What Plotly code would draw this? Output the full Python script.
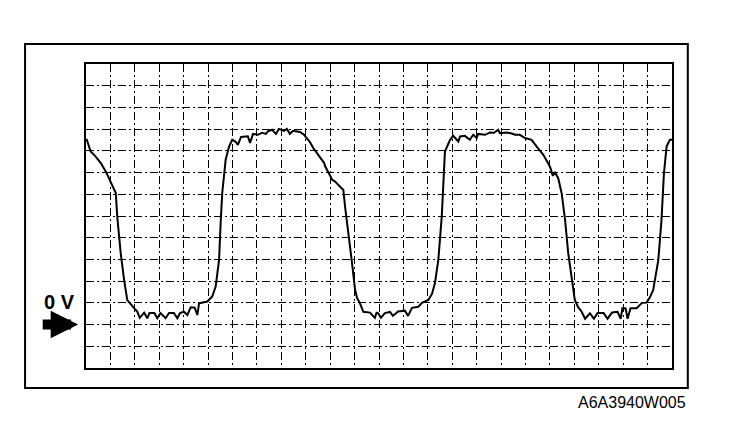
import plotly.graph_objects as go

# Oscilloscope trace (time in divisions, voltage in divisions relative to 0 V)
time_div = [
    0.02, 0.19, 0.37, 0.60, 0.82, 1.01, 1.22, 1.28, 1.42, 1.56, 1.69, 1.97, 2.10, 2.20, 2.38, 2.51, 2.60,
    2.80, 2.92, 3.05, 3.26, 3.40, 3.60, 3.74, 3.85, 4.01, 4.15, 4.29, 4.45, 4.56, 4.63, 4.97, 5.17,
    5.31, 5.45, 5.52, 5.58, 5.72, 5.86, 5.99, 6.14, 6.22, 6.35, 6.63, 6.72, 6.84, 7.04, 7.21, 7.37,
    7.45, 7.62, 7.78, 7.90, 8.11, 8.23, 8.35, 8.48, 8.76, 8.93, 9.04, 9.17, 9.30, 9.45, 9.58, 9.75,
    9.80, 9.93, 10.09, 10.20, 10.38, 10.54, 10.61, 10.74, 10.88, 11.02, 11.10, 11.22, 11.36, 11.63,
    11.83, 11.90, 11.96, 12.08, 12.24, 12.45, 12.57, 12.78, 13.06, 13.19, 13.35, 13.61, 13.76, 14.02,
    14.17, 14.29, 14.43, 14.57, 14.63, 14.70, 14.91, 15.04, 15.25, 15.32, 15.52, 15.72, 15.86, 16.00,
    16.06, 16.34, 16.54, 16.71, 16.88, 16.95, 17.23, 17.40, 17.57, 17.77, 17.98, 18.25, 18.46, 18.73,
    19.00, 19.12, 19.20, 19.34, 19.48, 19.62, 19.75, 19.89, 20.02, 20.15, 20.30, 20.44, 20.64, 20.80,
    20.95, 21.20, 21.36, 21.55, 21.77, 21.90, 21.97, 22.10, 22.18, 22.30, 22.55, 22.77, 22.96, 23.10,
    23.23, 23.44, 23.57, 23.67, 23.78, 23.91, 24.00,
]
voltage_div = [
    8.55, 7.97, 7.77, 7.45, 7.03, 6.59, 6.06, 4.97, 3.30, 2.06, 1.13, 0.76, 0.60, 0.31, 0.55, 0.29, 0.53,
    0.53, 0.29, 0.53, 0.29, 0.53, 0.53, 0.29, 0.53, 0.59, 0.44, 0.80, 0.78, 0.44, 0.98, 1.06, 1.29,
    1.75, 2.98, 4.82, 6.06, 7.59, 8.20, 8.51, 8.41, 8.27, 8.64, 8.67, 8.37, 8.78, 8.74, 8.83, 8.78,
    8.90, 8.97, 8.78, 9.01, 8.92, 9.01, 8.78, 8.92, 8.87, 8.74, 8.59, 8.41, 8.14, 7.89, 7.68, 7.45,
    7.28, 7.03, 6.66, 6.59, 6.39, 6.20, 5.43, 4.36, 2.98, 1.60, 1.23, 0.98, 0.59, 0.55,
    0.31, 0.55, 0.53, 0.31, 0.53, 0.58, 0.40, 0.60, 0.64, 0.40, 0.77, 0.82, 1.00, 1.13,
    1.41, 1.90, 2.98, 4.97, 6.66, 7.97, 8.51, 8.69, 8.43, 8.66, 8.69, 8.51, 8.74, 8.59,
    8.78, 8.74, 8.84, 8.83, 8.97, 8.81, 8.84, 8.81, 8.74, 8.74, 8.59, 8.51, 8.20, 7.82,
    7.28, 6.85, 7.03, 6.74, 6.05, 4.82, 3.29, 2.06, 1.13, 0.81, 0.59, 0.27, 0.52, 0.27,
    0.53, 0.53, 0.27, 0.56, 0.59, 0.27, 0.76, 0.74, 0.27, 0.75, 0.75, 1.00, 1.01, 1.27,
    1.59, 2.98, 4.82, 6.97, 8.20, 8.51, 8.51,
]

x_divisions = [0, 24]
y_divisions = [-2, 12]
zero_label = "0 V"
figure_code = "A6A3940W005"

fig = go.Figure()
fig.add_trace(go.Scatter(
    x=time_div, y=voltage_div, mode="lines",
    line=dict(color="black", width=2), hoverinfo="skip", showlegend=False,
))

axis_common = dict(
    showgrid=True, gridcolor="black", gridwidth=1, griddash="8px,3px,2px,3px",
    showline=True, linecolor="black", linewidth=2, mirror=True,
    showticklabels=False, ticks="", zeroline=False, dtick=1,
)
fig.update_xaxes(range=x_divisions, **axis_common)
fig.update_yaxes(range=y_divisions, **axis_common)

# outer frame
fig.add_shape(type="rect", xref="paper", yref="paper",
              x0=-0.104, x1=1.027, y0=-0.066, y1=1.066,
              line=dict(color="black", width=2), layer="below")

# 0 V label and arrow
fig.add_annotation(text="<b>" + zero_label + "</b>", xref="paper", yref="paper",
                   x=-0.046, y=0.217, xanchor="center", yanchor="middle",
                   showarrow=False, font=dict(family="Liberation Sans", size=20, color="black"))
fig.add_annotation(x=-0.0133, y=0, xref="paper", yref="y", ax=-37, ay=0,
                   showarrow=True, arrowhead=2, arrowsize=0.55, arrowwidth=10,
                   arrowcolor="black", text="")

fig.add_annotation(text=figure_code, xref="paper", yref="paper", x=1.027, y=-0.114,
                   xanchor="right", yanchor="middle", showarrow=False,
                   font=dict(family="Liberation Sans", size=16, color="black"))

fig.update_layout(
    width=752, height=446,
    margin=dict(l=86, r=80, t=64, b=78),
    paper_bgcolor="white", plot_bgcolor="white",
)

fig.write_html("out.html", config={"displayModeBar": False},
               post_script="document.body.style.margin='0px';")
